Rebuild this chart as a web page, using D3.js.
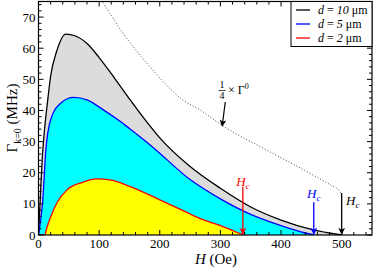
<!DOCTYPE html>
<html>
<head>
<meta charset="utf-8">
<script src="https://cdn.jsdelivr.net/npm/d3@7"></script>
<style>
  body { margin: 0; background: #fff; }
  svg { display: block; }
  svg text { font-family: "Liberation Serif", "Times New Roman", Times, serif; }
</style>
</head>
<body>
<div id="chart"></div>
<script>
// field values H (Oe) and linewidth (MHz) for each film thickness
const h10 = [0, 3, 6, 10, 15, 20, 30, 45, 60, 80, 100, 125, 150, 175, 200, 250, 300, 350, 400, 450, 500];
const g10 = [0, 12, 24, 34, 43, 51, 59, 64.5, 64, 61.5, 57, 50.5, 43.7, 37.2, 31.2, 22, 15, 9, 4.8, 1.8, 0];

const h5 = [0, 3, 7, 12, 20, 37, 58, 80, 107, 134, 150, 188, 250, 300, 350, 400, 430, 455];
const g5 = [0, 4, 11, 27, 37, 42.4, 44.2, 43.4, 40.2, 36.6, 34.2, 28.3, 17.8, 11.6, 6.6, 3, 1.2, 0];

const h2 = [0, 10, 14, 20, 31, 47, 74, 95, 120, 150, 188, 200, 243, 270, 300, 323, 338];
const g2 = [0, 0, 2.5, 5.8, 10.5, 14.5, 17, 18, 17.6, 15.6, 12.4, 11.3, 7.4, 5, 3, 1.2, 0];

// dotted reference curve, 1/4 x Gamma0
const hRef = [104, 139, 184, 238, 266, 307, 376, 447, 485, 495, 499, 500];
const gRef = [75.5, 64.9, 54, 43.4, 40.2, 34.7, 27.3, 19.9, 15.7, 14.5, 13, 11.5];

const xTicks = [0, 100, 200, 300, 400, 500];
const yTicks = [0, 10, 20, 30, 40, 50, 60, 70];

const series = [
  { name: "10", h: h10, g: g10, fill: "#dcdcdc", stroke: "#000000", hc: 500 },
  { name: "5",  h: h5,  g: g5,  fill: "#00ffff", stroke: "#0000ff", hc: 454 },
  { name: "2",  h: h2,  g: g2,  fill: "#ffff00", stroke: "#ff0000", hc: 337 }
];

const W = 374, H = 267;
const pL = 38.5, pR = 372, pT = 1.5, pB = 235;

const x = d3.scaleLinear().domain([0, 550]).range([pL, pR]);
const y = d3.scaleLinear().domain([0, 75]).range([pB, pT]);

const svg = d3.select("#chart").append("svg")
  .attr("width", W).attr("height", H);

const defs = svg.append("defs");
defs.append("clipPath").attr("id", "clip")
  .append("rect").attr("x", pL).attr("y", pT)
  .attr("width", pR - pL).attr("height", pB - pT);

const plot = svg.append("g").attr("clip-path", "url(#clip)");

const pts = s => s.h.map((v, i) => [v, s.g[i]]);

const area = d3.area()
  .x(d => x(d[0])).y0(y(0)).y1(d => y(d[1]))
  .curve(d3.curveMonotoneX);
const line = d3.line()
  .x(d => x(d[0])).y(d => y(d[1]))
  .curve(d3.curveMonotoneX);

// filled areas, largest first
series.forEach(s => {
  plot.append("path").datum(pts(s))
    .attr("d", area).attr("fill", s.fill);
});
series.forEach(s => {
  plot.append("path").datum(pts(s))
    .attr("d", line).attr("fill", "none")
    .attr("stroke", s.stroke).attr("stroke-width", 1.3);
});

// dotted 1/4 Gamma0 curve
plot.append("path").datum(hRef.map((v, i) => [v, gRef[i]]))
  .attr("d", line).attr("fill", "none")
  .attr("stroke", "#333").attr("stroke-width", 0.9)
  .attr("stroke-dasharray", "1,2");

// arrow markers
series.concat([{ name: "ref", stroke: "#000" }]).forEach(s => {
  defs.append("marker").attr("id", "arr" + s.name)
    .attr("viewBox", "0 0 10 10").attr("refX", 9).attr("refY", 5)
    .attr("markerWidth", 7).attr("markerHeight", 7)
    .attr("markerUnits", "userSpaceOnUse")
    .attr("orient", "auto")
    .append("path").attr("d", "M0,0 L10,5 L0,10 L3,5 Z")
    .attr("fill", s.stroke);
});

// Hc arrows and labels
const hcTop = { "10": 13.5, "5": 10.5, "2": 15.5 };
const hcLab = [
  { k: "2",  dx: 0,  ty: 186 },
  { k: "5",  dx: 0,  ty: 198 },
  { k: "10", dx: 11, ty: 205 }
];
hcLab.forEach(l => {
  const s = series.find(d => d.name === l.k);
  svg.append("line")
    .attr("x1", x(s.hc)).attr("x2", x(s.hc))
    .attr("y1", y(hcTop[l.k])).attr("y2", y(0) - 1)
    .attr("stroke", s.stroke).attr("stroke-width", 1.3)
    .attr("marker-end", "url(#arr" + s.name + ")");
  const t = svg.append("text")
    .attr("x", x(s.hc) + l.dx).attr("y", l.ty)
    .attr("text-anchor", "middle").attr("fill", s.stroke)
    .attr("font-size", 13).attr("font-style", "italic");
  t.append("tspan").text("H");
  t.append("tspan").attr("font-size", 9).attr("dy", 3).text("c");
});

// 1/4 x Gamma0 label with arrow
svg.append("line")
  .attr("x1", x(308)).attr("y1", 102).attr("x2", x(303)).attr("y2", 126)
  .attr("stroke", "#000").attr("stroke-width", 1.2)
  .attr("marker-end", "url(#arrref)");
const fx = 222;
svg.append("text").attr("x", fx).attr("y", 88).attr("text-anchor", "middle")
  .attr("font-size", 10).text("1");
svg.append("line").attr("x1", fx - 3.5).attr("x2", fx + 3.5)
  .attr("y1", 90.5).attr("y2", 90.5).attr("stroke", "#000").attr("stroke-width", 0.7);
svg.append("text").attr("x", fx).attr("y", 99).attr("text-anchor", "middle")
  .attr("font-size", 10).text("4");
const gt = svg.append("text").attr("x", 228).attr("y", 94).attr("font-size", 12);
gt.append("tspan").text("× Γ");
gt.append("tspan").attr("font-size", 8).attr("dy", -5).text("0");

// axes
const major = 5, minor = 3;
const ax = svg.append("g").attr("stroke", "#000").attr("stroke-width", 1);
const xMinor = d3.range(0, 551, 20);
const yMinor = d3.range(0, 75.1, 2);
xMinor.forEach(v => {
  const len = v % 100 === 0 ? major : minor;
  ax.append("line").attr("x1", x(v)).attr("x2", x(v)).attr("y1", pB).attr("y2", pB - len);
  ax.append("line").attr("x1", x(v)).attr("x2", x(v)).attr("y1", pT).attr("y2", pT + len);
});
yMinor.forEach(v => {
  const len = v % 10 === 0 ? major : minor;
  ax.append("line").attr("y1", y(v)).attr("y2", y(v)).attr("x1", pL).attr("x2", pL + len);
  ax.append("line").attr("y1", y(v)).attr("y2", y(v)).attr("x1", pR).attr("x2", pR - len);
});
svg.append("rect").attr("x", pL).attr("y", pT)
  .attr("width", pR - pL).attr("height", pB - pT)
  .attr("fill", "none").attr("stroke", "#000").attr("stroke-width", 1.2);

svg.append("g").selectAll("text").data(xTicks).join("text")
  .attr("x", d => x(d)).attr("y", pB + 12.5)
  .attr("text-anchor", "middle").attr("font-size", 13).text(d => d);
svg.append("g").selectAll("text").data(yTicks).join("text")
  .attr("x", pL - 3).attr("y", d => y(d) + 4.5)
  .attr("text-anchor", "end").attr("font-size", 13).text(d => d);

// axis titles
const xt = svg.append("text").attr("x", 216).attr("y", 264)
  .attr("text-anchor", "middle").attr("font-size", 15);
xt.append("tspan").attr("font-style", "italic").text("H");
xt.append("tspan").text(" (Oe)");

const yt = svg.append("text")
  .attr("transform", "translate(17,118) rotate(-90)")
  .attr("text-anchor", "middle").attr("font-size", 15);
yt.append("tspan").text("Γ");
yt.append("tspan").attr("font-size", 10).attr("dy", 4).text("k=0");
yt.append("tspan").attr("dy", -4).text(" (MHz)");

// legend
const lg = svg.append("g");
lg.append("rect").attr("x", 291).attr("y", pT).attr("width", pR - 291).attr("height", 45)
  .attr("fill", "#fff").attr("stroke", "#000").attr("stroke-width", 1);
series.forEach((s, i) => {
  const ly = 10 + i * 14;
  lg.append("line").attr("x1", 296).attr("x2", 310).attr("y1", ly).attr("y2", ly)
    .attr("stroke", s.stroke).attr("stroke-width", 1.3);
  const t = lg.append("text").attr("x", 318).attr("y", ly + 4).attr("font-size", 12);
  t.append("tspan").attr("font-style", "italic").text("d");
  t.append("tspan").text(" = ");
  t.append("tspan").attr("font-style", "italic").text(s.name);
  t.append("tspan").text(" μm");
});
</script>
</body>
</html>
